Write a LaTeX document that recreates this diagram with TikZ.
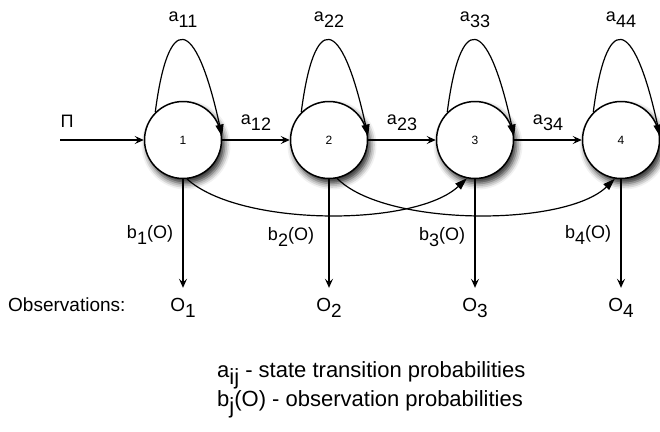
\documentclass[tikz,border=0pt]{standalone}
\usepackage{fontspec}
\setmainfont{Liberation Sans}
\usetikzlibrary{arrows.meta,shadows.blur}
\newcommand\sbs[1]{\raisebox{-0.33em}{#1}}
\begin{document}
\begin{tikzpicture}[x=1pt,y=-1pt,
  state/.style={circle,draw,line width=1.5pt,fill=white,minimum size=77pt,inner sep=0pt,
    font=\fontsize{12}{14}\selectfont,
    blur shadow={shadow xshift=3pt,shadow yshift=-5pt,shadow blur radius=6pt,shadow opacity=85}},
  lbl/.style={font=\fontsize{18}{20}\selectfont,inner sep=0pt},
  olbl/.style={font=\fontsize{19}{21}\selectfont,inner sep=0pt,anchor=base,text height=13pt},
  leg/.style={font=\fontsize{22}{24}\selectfont,inner sep=0pt,anchor=base west},
  arr/.style={-{Stealth[length=9pt,width=8pt,inset=3.5pt]},line width=1.2pt},
  tri/.style={-{Triangle[length=12pt,width=8pt]},line width=1.2pt},
]
\useasboundingbox (0,0) rectangle (660,431);

\node[state] (n1) at (183,140) {1};
\node[state] (n2) at (329,140) {2};
\node[state] (n3) at (475,140) {3};
\node[state] (n4) at (621,140) {4};

% self loops
\foreach \n/\k in {n1/11,n2/22,n3/33,n4/44}{
  \draw[tri] (\n.135) .. controls ([shift={(-15,-127)}]\n.center) and ([shift={(12,-127)}]\n.center) .. (\n.5);
  \node[lbl] at ([shift={(0,-120)}]\n.center) {a\sbs{\k}};
}

% initial
\coordinate (pi0) at (60,140);
\node[lbl] (pi) at (67,121) {Π};
\draw[arr] (pi0) -- (n1.west);

% transitions
\draw[arr] (n1.east) -- (n2.west) node[lbl,midway,above=9pt] {a\sbs{12}};
\draw[arr] (n2.east) -- (n3.west) node[lbl,midway,above=9pt] {a\sbs{23}};
\draw[arr] (n3.east) -- (n4.west) node[lbl,midway,above=9pt] {a\sbs{34}};

% skip transitions
\draw[tri] (n1.-84) .. controls ([shift={(57,87)}]n1.center) and ([shift={(-60,87)}]n3.center) .. (n3.-102);
\draw[tri] (n2.-78) .. controls ([shift={(56,87)}]n2.center) and ([shift={(-56,87)}]n4.center) .. (n4.-99);

% observations
\node[lbl,anchor=base west,font=\fontsize{19}{21}\selectfont] (obs) at (8,311) {Observations:};
\node[olbl] (o1) at (183,311) {O\sbs{1}};
\node[olbl] (o2) at (329,311) {O\sbs{2}};
\node[olbl] (o3) at (475,311) {O\sbs{3}};
\node[olbl] (o4) at (621,311) {O\sbs{4}};
\draw[arr,shorten >=10pt] (n1.south) -- (o1.north);
\draw[arr,shorten >=10pt] (n2.south) -- (o2.north);
\draw[arr,shorten >=10pt] (n3.south) -- (o3.north);
\draw[arr,shorten >=10pt] (n4.south) -- (o4.north);

\node[lbl] (b1) at (150,235) {b\sbs{1}(O)};
\node[lbl] (b2) at (291,237) {b\sbs{2}(O)};
\node[lbl] (b3) at (442,237) {b\sbs{3}(O)};
\node[lbl] (b4) at (588,235) {b\sbs{4}(O)};

% legend
\node[leg] (l1) at (217,377) {a\sbs{ij} - state transition probabilities};
\node[leg] (l2) at (217,406) {b\sbs{j}(O) - observation probabilities};
\end{tikzpicture}
\end{document}
